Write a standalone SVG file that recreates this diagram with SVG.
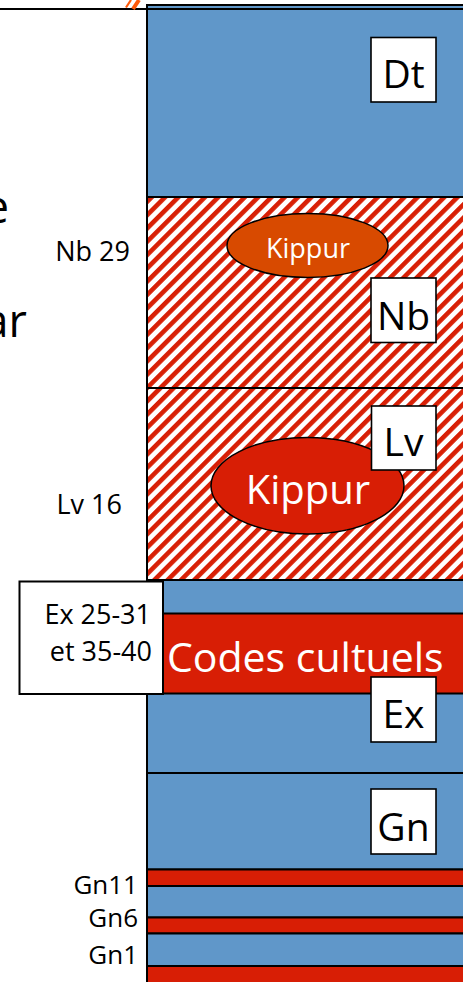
<svg xmlns="http://www.w3.org/2000/svg" width="463" height="982" viewBox="0 0 463 982">
  <defs>
    <pattern id="hatch" patternUnits="userSpaceOnUse" width="9.4" height="9.4" patternTransform="rotate(45)">
      <rect x="0" y="0" width="9.4" height="9.4" fill="#ffffff"/>
      <rect x="0" y="0" width="4.6" height="9.4" fill="#d82006"/>
    </pattern>
  </defs>
  <style>
    .sec { stroke: #000; stroke-width: 2; }
    .blue { fill: #6097c9; }
    .red { fill: #d81e05; }
    .hat { fill: url(#hatch); }
    .lbl { fill: #fff; stroke: #000; stroke-width: 1.6; }
    .big { font-family: "Open Sans", "Liberation Sans", sans-serif; font-size: 39px; fill: #000; text-anchor: middle; }
    .side { font-family: "Open Sans", "Liberation Sans", sans-serif; font-size: 27px; fill: #000; text-anchor: end; }
    .gn { font-size: 26px; }
    .wt { font-family: "Open Sans", "Liberation Sans", sans-serif; fill: #fff; }
    .huge { font-family: "Open Sans", "Liberation Sans", sans-serif; font-size: 45px; fill: #000; text-anchor: end; }
  </style>

  <rect x="0" y="0" width="463" height="982" fill="#fff"/>

  <g id="left-text">
    <text class="huge" x="9" y="223">e</text>
    <text class="huge" x="27" y="337">ar</text>
  </g>

  <g id="dt">
    <rect class="sec blue" x="147" y="5" width="330" height="192"/>
    <rect class="lbl" x="371" y="37.5" width="65" height="64.5"/>
    <text class="big" x="403.5" y="88">Dt</text>
  </g>

  <g id="nb">
    <rect class="sec hat" x="147" y="197" width="330" height="191"/>
    <ellipse cx="307.5" cy="245.5" rx="80.5" ry="32" fill="#d84a00" stroke="#000" stroke-width="1.5"/>
    <text class="wt" x="308" y="258" font-size="27" text-anchor="middle">Kippur</text>
    <rect class="lbl" x="371" y="278" width="65" height="64.5"/>
    <text class="big" x="403.5" y="330">Nb</text>
    <text class="side" x="130" y="261">Nb 29</text>
  </g>

  <g id="lv">
    <rect class="sec hat" x="147" y="388" width="330" height="192"/>
    <ellipse cx="307.5" cy="485.7" rx="96.5" ry="48.3" fill="#d81e05" stroke="#000" stroke-width="1.5"/>
    <text class="wt" x="308" y="504" font-size="40" text-anchor="middle">Kippur</text>
    <rect class="lbl" x="371.5" y="406" width="64.5" height="64"/>
    <text class="big" x="403.5" y="456">Lv</text>
    <text class="side" x="122" y="514">Lv 16</text>
  </g>

  <g id="ex">
    <rect class="sec blue" x="147" y="580" width="330" height="193"/>
    <rect class="sec red" x="147" y="613.5" width="330" height="80"/>
    <text class="wt" x="167" y="672" font-size="41">Codes cultuels</text>
    <rect class="lbl" x="371" y="677" width="65" height="65"/>
    <text class="big" x="403.5" y="728">Ex</text>
  </g>

  <g id="ex-ref">
    <rect fill="#fff" stroke="#000" stroke-width="2" x="19.5" y="581.5" width="143.5" height="112.5"/>
    <text class="side" x="151" y="624">Ex 25-31</text>
    <text class="side" x="152" y="661">et 35-40</text>
  </g>

  <g id="gn">
    <rect class="sec blue" x="147" y="773" width="330" height="96.5"/>
    <rect class="lbl" x="371" y="789" width="65" height="65"/>
    <text class="big" x="403.5" y="841">Gn</text>
  </g>

  <g id="gn-bands">
    <rect class="sec red" x="147" y="869.5" width="330" height="16.5"/>
    <rect class="sec blue" x="147" y="886" width="330" height="31.5"/>
    <rect class="sec red" x="147" y="917.5" width="330" height="16"/>
    <rect class="sec blue" x="147" y="933.5" width="330" height="32.5"/>
    <rect class="sec red" x="147" y="966" width="330" height="20"/>
    <text class="side gn" x="138" y="894">Gn11</text>
    <text class="side gn" x="138" y="927">Gn6</text>
    <text class="side gn" x="138" y="964">Gn1</text>
  </g>

  <g id="connectors">
    <line x1="0" y1="9" x2="463" y2="9" stroke="#000" stroke-width="2"/>
    <path d="M126,7.5 L131,0" stroke="#ff5a0a" stroke-width="2.2" fill="none"/>
    <path d="M133,9 L139,0" stroke="#ff5a0a" stroke-width="4" fill="none"/>
  </g>
</svg>
